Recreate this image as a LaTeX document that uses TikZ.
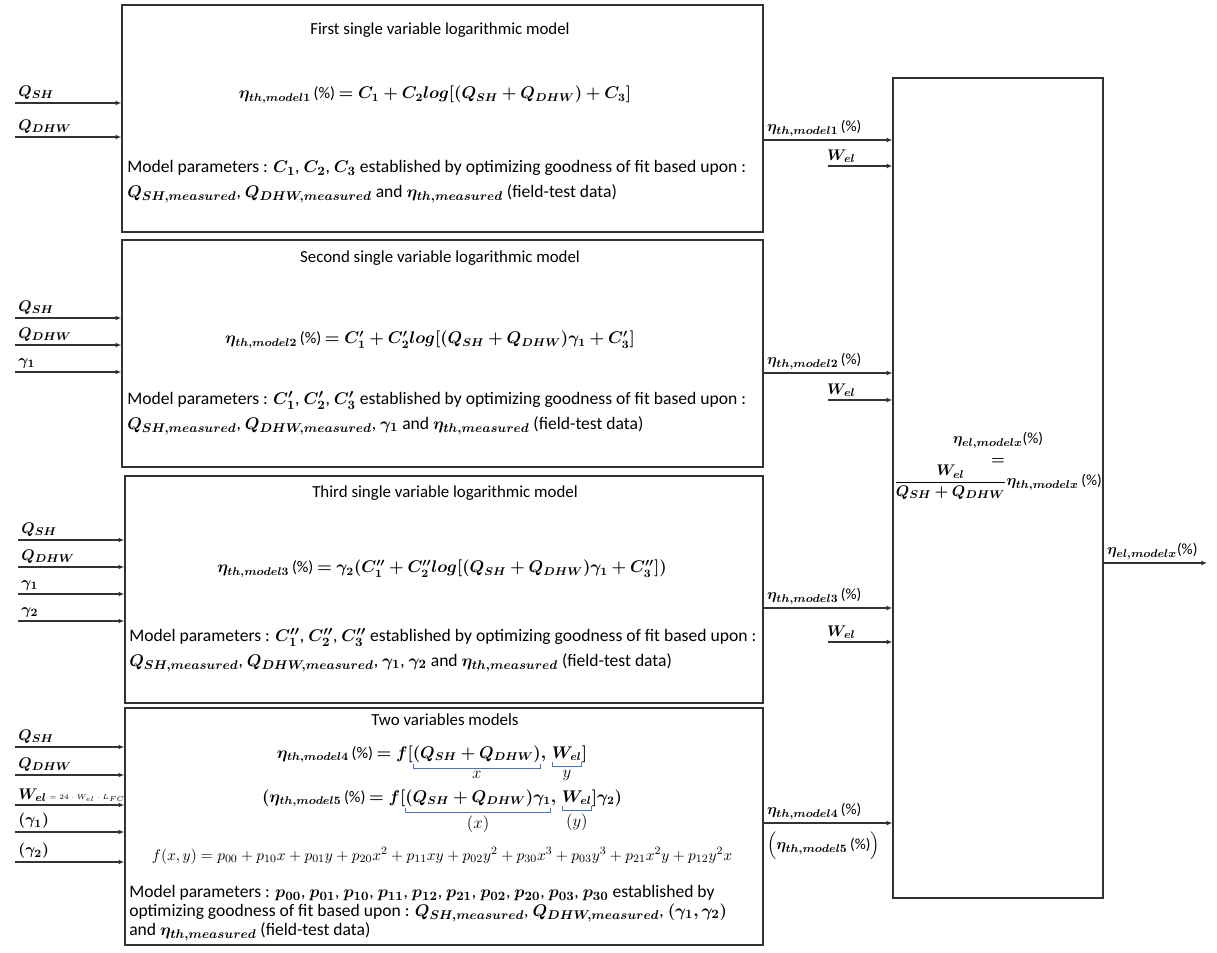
\documentclass[tikz,border=0pt]{standalone}
\usepackage{fontspec}
\setmainfont{Carlito}
\usepackage{mathtools}
\usepackage{bm}
\usepackage{tikz}
\usetikzlibrary{positioning, calc, arrows.meta}
\definecolor{linegray}{HTML}{333333}
\definecolor{braceblue}{HTML}{4472C4}
\tikzset{
	modelbox/.style={draw=linegray, line width=1pt, inner sep=0pt}
}
\tikzset{
	titletext/.style={font=\fontsize{12}{14}\selectfont, inner sep=0pt},
	boxtext/.style={font=\fontsize{11.5}{13}\selectfont, inner sep=0pt},
	paramtext/.style={font=\fontsize{12.5}{17.5}\selectfont, align=left, anchor=north west, inner sep=0pt},
	varlabel/.style={font=\fontsize{11}{13}\selectfont, inner sep=2pt},
	signal/.style={draw=linegray, line width=0.9pt, -{Latex[length=4pt,width=3.5pt]}}
}
\newcommand{\blubrace}[2]{{\color{braceblue}\underbracket[0.6pt][3pt]{\color{black}#1}_{\textstyle\color{black}#2}}}
\newcommand{\pct}{\,(\%)}

\begin{document}
\begin{tikzpicture}[x=0.025cm, y=-0.025cm]
      \useasboundingbox (0,0) rectangle (1217,953);
      % model boxes
      \node[modelbox, minimum width=16.025cm, minimum height=5.675cm] (m1) at (442.5,118.5) {};
      \node[modelbox, minimum width=16.025cm, minimum height=5.675cm] (m2) at (442.5,353.5) {};
      \node[modelbox, minimum width=15.95cm, minimum height=5.675cm] (m3) at (444,589.5) {};
      \node[modelbox, minimum width=15.95cm, minimum height=5.925cm] (m4) at (444,826.5) {};
      \node[modelbox, minimum width=5.25cm, minimum height=20.5cm] (el) at (998,488) {};

      % first model
      \node[titletext] (t1) at (440,30) {First single variable logarithmic model};
      \node[boxtext] (e1) at (435,95) {$\bm{\eta_{th,model1}}$\pct{} $\bm{= C_1 + C_2 log[(Q_{SH} + Q_{DHW}) + C_3]}$};
      \node[paramtext] (p1) at (127,160) {Model parameters : $\bm{C_1}$, $\bm{C_2}$, $\bm{C_3}$ established by optimizing goodness of fit based upon :\\
        $\bm{Q_{SH,measured}}$, $\bm{Q_{DHW,measured}}$ and $\bm{\eta_{th,measured}}$ (field-test data)};

      % second model
      \node[titletext] (t2) at (440,258) {Second single variable logarithmic model};
      \node[boxtext] (e2) at (430,340) {$\bm{\eta_{th,model2}}$\pct{} $\bm{= C'_1 + C'_2 log[(Q_{SH} + Q_{DHW})\gamma_1 + C'_3]}$};
      \node[paramtext] (p2) at (127,391) {Model parameters : $\bm{C'_1}$, $\bm{C'_2}$, $\bm{C'_3}$ established by optimizing goodness of fit based upon :\\
        $\bm{Q_{SH,measured}}$, $\bm{Q_{DHW,measured}}$, $\bm{\gamma_1}$ and $\bm{\eta_{th,measured}}$ (field-test data)};

      % third model
      \node[titletext] (t3) at (445,493) {Third single variable logarithmic model};
      \node[boxtext] (e3) at (442,569) {$\bm{\eta_{th,model3}}$\pct{} $\bm{= \gamma_2(C''_1 + C''_2 log[(Q_{SH} + Q_{DHW})\gamma_1 + C''_3])}$};
      \node[paramtext] (p3) at (129,628) {Model parameters : $\bm{C''_1}$, $\bm{C''_2}$, $\bm{C''_3}$ established by optimizing goodness of fit based upon :\\
        $\bm{Q_{SH,measured}}$, $\bm{Q_{DHW,measured}}$, $\bm{\gamma_1}$, $\bm{\gamma_2}$ and $\bm{\eta_{th,measured}}$ (field-test data)};

      % two variables models
      \node[titletext] (t4) at (445,720) {Two variables models};
      \node[boxtext, anchor=base] (e4) at (432,758) {$\bm{\eta_{th,model4}}$\pct{} $\bm{= f[}\blubrace{\bm{(Q_{SH} + Q_{DHW})}}{x}\bm{,}\,\blubrace{\bm{W_{el}}}{y}\bm{]}$};
      \node[boxtext, anchor=base] (e5) at (442,802) {$\bm{(\eta_{th,model5}}$\pct{} $\bm{= f[}\blubrace{\bm{(Q_{SH} + Q_{DHW})\gamma_1}}{(x)}\bm{,}\,\blubrace{\bm{W_{el}}}{(y)}\bm{]\gamma_2)}$};
      \node[boxtext, font=\fontsize{11}{13}\selectfont, anchor=base] (fxy) at (442,860) {$f(x,y) = p_{00} + p_{10}x + p_{01}y + p_{20}x^2 + p_{11}xy + p_{02}y^2 + p_{30}x^3 + p_{03}y^3 + p_{21}x^2y + p_{12}y^2x$};
      \node[paramtext, font=\fontsize{12.5}{13.4}\selectfont] (p4) at (129,885) {Model parameters : $\bm{p_{00}}$, $\bm{p_{01}}$, $\bm{p_{10}}$, $\bm{p_{11}}$, $\bm{p_{12}}$, $\bm{p_{21}}$, $\bm{p_{02}}$, $\bm{p_{20}}$, $\bm{p_{03}}$, $\bm{p_{30}}$ established by\\
        optimizing goodness of fit based upon : $\bm{Q_{SH,measured}}$, $\bm{Q_{DHW,measured}}$, $\bm{(\gamma_1, \gamma_2)}$\\
        and $\bm{\eta_{th,measured}}$ (field-test data)};

      % electrical efficiency
      \node[boxtext, align=center, font=\fontsize{11}{15}\selectfont] (elx) at (998,466) {$\bm{\eta_{el,modelx}}$(\%)\\ $\bm{=}$\\
        $\dfrac{\bm{W_{el}}}{\bm{Q_{SH} + Q_{DHW}}}\bm{\eta_{th,modelx}}$\pct};

      % inputs
      \coordinate (i11) at (15,103);
      \coordinate (i12) at (15,137);
      \draw[signal] (i11) -- (i11 -| m1.west) node[pos=0, above right, varlabel] {$\bm{Q_{SH}}$};
      \draw[signal] (i12) -- (i12 -| m1.west) node[pos=0, above right, varlabel] {$\bm{Q_{DHW}}$};

      \coordinate (i21) at (15,318);
      \coordinate (i22) at (15,345);
      \coordinate (i23) at (15,372);
      \draw[signal] (i21) -- (i21 -| m2.west) node[pos=0, above right, varlabel] {$\bm{Q_{SH}}$};
      \draw[signal] (i22) -- (i22 -| m2.west) node[pos=0, above right, varlabel] {$\bm{Q_{DHW}}$};
      \draw[signal] (i23) -- (i23 -| m2.west) node[pos=0, above right, varlabel] {$\bm{\gamma_1}$};

      \coordinate (i31) at (18,540);
      \coordinate (i32) at (18,567);
      \coordinate (i33) at (18,594);
      \coordinate (i34) at (18,621);
      \draw[signal] (i31) -- (i31 -| m3.west) node[pos=0, above right, varlabel] {$\bm{Q_{SH}}$};
      \draw[signal] (i32) -- (i32 -| m3.west) node[pos=0, above right, varlabel] {$\bm{Q_{DHW}}$};
      \draw[signal] (i33) -- (i33 -| m3.west) node[pos=0, above right, varlabel] {$\bm{\gamma_1}$};
      \draw[signal] (i34) -- (i34 -| m3.west) node[pos=0, above right, varlabel] {$\bm{\gamma_2}$};

      \coordinate (i41) at (15,747);
      \coordinate (i42) at (15,775);
      \coordinate (i43) at (15,805);
      \coordinate (i44) at (15,832);
      \coordinate (i45) at (15,862);
      \draw[signal] (i41) -- (i41 -| m4.west) node[pos=0, above right, varlabel] {$\bm{Q_{SH}}$};
      \draw[signal] (i42) -- (i42 -| m4.west) node[pos=0, above right, varlabel] {$\bm{Q_{DHW}}$};
      \draw[signal] (i43) -- (i43 -| m4.west) node[pos=0, above right, varlabel] {$\bm{W_{el}}$\,{\tiny$= 24\cdot W_{el}\cdot L_{FC}$}};
      \draw[signal] (i44) -- (i44 -| m4.west) node[pos=0, above right, varlabel] {$\bm{(\gamma_1)}$};
      \draw[signal] (i45) -- (i45 -| m4.west) node[pos=0, above right, varlabel] {$\bm{(\gamma_2)}$};

      % thermal outputs into electrical box
      \coordinate (o1) at (m1.east |- 0,140);
      \coordinate (o2) at (m2.east |- 0,373);
      \coordinate (o3) at (m3.east |- 0,608);
      \coordinate (o4) at (m4.east |- 0,823);
      \draw[signal] (o1) -- (o1 -| el.west) node[pos=0, above right, varlabel] {$\bm{\eta_{th,model1}}$\pct};
      \draw[signal] (o2) -- (o2 -| el.west) node[pos=0, above right, varlabel] {$\bm{\eta_{th,model2}}$\pct};
      \draw[signal] (o3) -- (o3 -| el.west) node[pos=0, above right, varlabel] {$\bm{\eta_{th,model3}}$\pct};
      \draw[signal] (o4) -- (o4 -| el.west) node[pos=0, above right, varlabel] {$\bm{\eta_{th,model4}}$\pct}
        node[pos=0, below right, varlabel, yshift=-4pt] {$\Big(\bm{\eta_{th,model5}}$\pct$\Big)$};

      % electrical inputs
      \coordinate (w1) at (828,166);
      \coordinate (w2) at (828,400);
      \coordinate (w3) at (828,642);
      \draw[signal] (w1) -- (w1 -| el.west) node[pos=0, above right, varlabel, xshift=-3pt] {$\bm{W_{el}}$};
      \draw[signal] (w2) -- (w2 -| el.west) node[pos=0, above right, varlabel, xshift=-3pt] {$\bm{W_{el}}$};
      \draw[signal] (w3) -- (w3 -| el.west) node[pos=0, above right, varlabel, xshift=-3pt] {$\bm{W_{el}}$};

      % result
      \coordinate (res) at (1207,563);
      \draw[signal] (res -| el.east) -- (res) node[pos=0, above right, varlabel] {$\bm{\eta_{el,modelx}}$(\%)};
    \end{tikzpicture}
\end{document}
